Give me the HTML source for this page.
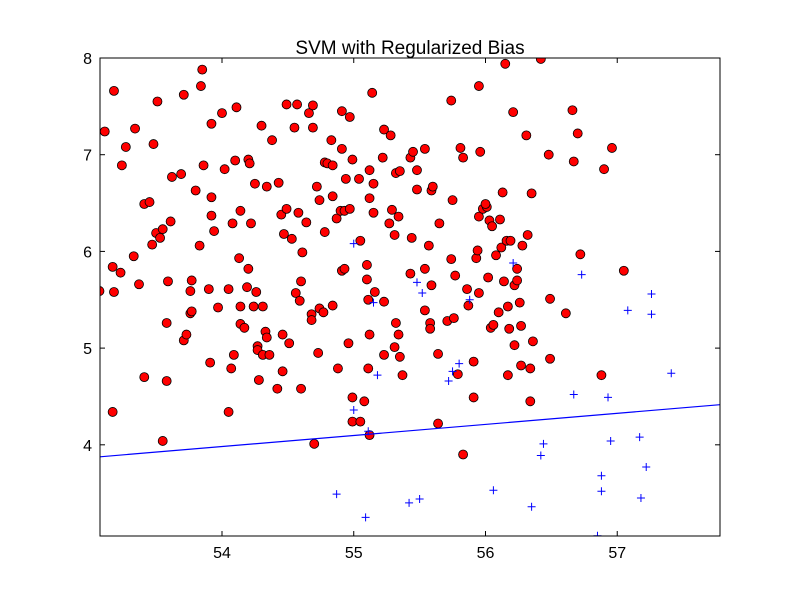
<!DOCTYPE html>
<html><head><meta charset="utf-8"><style>
html,body{margin:0;padding:0;background:#fff;}
svg{display:block;font-family:"Liberation Sans",sans-serif;}
</style></head><body>
<svg id="chart" width="800" height="595" viewBox="0 0 800 595" xmlns="http://www.w3.org/2000/svg">
<rect x="0" y="0" width="800" height="595" fill="#fff"/>
<text x="410" y="54" font-size="19" text-anchor="middle">SVM with Regularized Bias</text>
<defs><clipPath id="pc"><rect x="100" y="58" width="620" height="478"/></clipPath></defs>
<g id="marks" clip-path="url(#pc)"></g>
<g id="axes"></g>
<rect x="100" y="58" width="620" height="478" fill="none" stroke="#000" stroke-width="1"/>
</svg>
<script>
const redX=[53.07,53.11,53.18,53.17,53.18,53.17,53.23,53.24,53.27,53.34,53.33,53.37,53.41,53.41,53.45,53.47,53.48,53.50,53.51,53.53,53.55,53.55,53.58,53.58,53.59,53.61,53.62,53.69,53.71,53.71,53.73,53.76,53.76,53.77,53.77,53.80,53.83,53.84,53.85,53.86,53.90,53.91,53.92,53.92,53.92,53.94,53.97,54.00,54.02,54.05,54.05,54.07,54.09,54.08,54.10,54.11,54.13,54.14,54.14,54.14,54.17,54.19,54.20,54.20,54.21,54.22,54.24,54.25,54.26,54.27,54.27,54.28,54.30,54.31,54.31,54.33,54.34,54.34,54.36,54.38,54.42,54.43,54.45,54.46,54.46,54.47,54.49,54.49,54.51,54.53,54.55,54.56,54.57,54.58,54.59,54.60,54.60,54.61,54.64,54.66,54.68,54.68,54.69,54.69,54.70,54.72,54.73,54.74,54.74,54.77,54.78,54.78,54.80,54.83,54.84,54.84,54.84,54.87,54.88,54.90,54.91,54.91,54.91,54.93,54.93,54.94,54.96,54.97,54.97,54.99,54.99,54.99,55.04,55.05,55.05,55.08,55.10,55.10,55.11,55.11,55.12,55.12,55.12,55.12,55.14,55.15,55.15,55.16,55.22,55.23,55.23,55.23,55.27,55.28,55.29,55.31,55.32,55.31,55.32,55.34,55.34,55.35,55.35,55.37,55.43,55.43,55.44,55.45,55.48,55.48,55.54,55.54,55.54,55.57,55.58,55.58,55.59,55.59,55.60,55.64,55.64,55.65,55.71,55.74,55.74,55.75,55.76,55.77,55.79,55.81,55.83,55.83,55.86,55.87,55.91,55.91,55.93,55.94,55.95,55.95,55.96,55.95,55.98,56.01,56.00,56.02,56.03,56.04,56.05,56.06,56.08,56.10,56.11,56.12,56.13,56.14,56.15,56.16,56.17,56.17,56.18,56.19,56.21,56.22,56.22,56.24,56.24,56.26,56.27,56.27,56.28,56.31,56.32,56.34,56.34,56.35,56.36,56.42,56.48,56.49,56.49,56.61,56.66,56.67,56.70,56.72,56.88,56.90,56.96,57.05];
const redY=[5.59,7.24,7.66,5.84,5.58,4.34,5.78,6.89,7.08,7.27,5.95,5.66,4.70,6.49,6.51,6.07,7.11,6.19,7.55,6.14,6.23,4.04,5.26,4.66,5.69,6.31,6.77,6.80,7.62,5.08,5.14,5.36,5.59,5.70,5.38,6.63,6.06,7.71,7.88,6.89,5.61,4.85,7.32,6.56,6.37,6.21,5.42,7.43,6.85,4.34,5.61,4.79,4.93,6.29,6.94,7.49,5.93,6.42,5.43,5.25,5.21,5.63,5.82,6.95,6.91,6.29,5.43,6.70,5.58,5.02,4.98,4.67,7.30,5.43,4.93,5.17,6.67,5.11,4.93,7.15,4.58,6.71,6.38,5.14,4.76,6.18,6.44,7.52,5.05,6.13,7.28,5.57,7.52,6.40,5.49,5.69,4.58,5.99,6.30,7.43,5.35,5.29,7.28,7.51,4.01,6.67,4.95,6.53,5.41,5.37,6.20,6.92,6.91,7.15,6.57,5.44,6.89,6.34,4.79,6.42,7.45,7.06,5.80,5.82,6.42,6.75,5.05,7.39,6.44,6.95,4.49,4.24,6.75,4.24,6.11,4.45,5.86,5.71,4.79,5.50,6.84,6.55,5.14,4.10,7.64,6.40,6.70,5.58,6.97,5.48,7.26,4.93,6.29,7.20,6.43,5.01,5.26,6.17,6.81,5.14,6.36,4.91,6.83,4.72,5.77,6.97,6.14,7.03,6.84,6.64,5.39,5.82,7.06,6.06,5.26,5.20,6.63,5.65,6.67,4.94,4.22,6.29,5.28,7.56,5.92,6.53,5.31,5.75,4.73,7.07,6.97,3.90,5.61,5.44,4.49,4.86,5.93,6.01,5.57,7.71,7.03,6.36,6.44,6.46,6.49,5.73,6.32,5.21,6.26,5.24,5.96,5.37,6.33,6.04,6.61,5.69,7.94,6.11,5.43,4.72,5.20,6.11,7.44,5.03,5.65,5.70,5.82,5.47,5.23,4.82,6.06,7.20,6.17,4.79,4.45,6.60,5.07,7.99,7.00,5.51,4.89,5.36,7.46,6.93,7.22,5.97,4.72,6.85,7.07,5.80];
const blueX=[55.00,55.48,55.52,55.15,55.18,55.00,55.11,54.87,55.09,55.42,55.50,55.72,55.75,55.80,55.88,56.21,56.06,56.35,56.42,56.44,56.67,56.73,56.93,56.95,56.88,56.88,56.85,57.08,57.26,57.26,57.17,57.18,57.22,57.41];
const blueY=[6.08,5.68,5.57,5.47,4.72,4.36,4.14,3.49,3.25,3.40,3.44,4.66,4.76,4.84,5.50,5.88,3.53,3.36,3.89,4.01,4.52,5.76,4.49,4.04,3.68,3.52,3.06,5.39,5.56,5.35,4.08,3.45,3.77,4.74];
const lineX=[53.074,57.78];
const lineY=[3.876,4.415];
const xTicks=[54,55,56,57];
const yTicks=[4,5,6,7,8];
const xDom=[53.074,57.78], yDom=[3.057,8];
const L=100,R=720,T=58,B=536;
const sx=v=>L+(v-xDom[0])/(xDom[1]-xDom[0])*(R-L);
const sy=v=>B-(v-yDom[0])/(yDom[1]-yDom[0])*(B-T);
const NS="http://www.w3.org/2000/svg";
const marks=document.getElementById('marks'), axes=document.getElementById('axes');
function mk(tag,attrs,parent){const e=document.createElementNS(NS,tag);for(const k in attrs)e.setAttribute(k,attrs[k]);parent.appendChild(e);return e;}
for(let i=0;i<redX.length;i++){
  const c=mk('circle',{cx:sx(redX[i]),cy:sy(redY[i]),r:4.5,fill:'#ff0000',stroke:'#000','stroke-width':0.8},marks);
  
  
}
for(let i=0;i<blueX.length;i++){
  const x=sx(blueX[i]),y=sy(blueY[i]);
  const p=mk('path',{d:`M${x-4},${y}H${x+4}M${x},${y-4}V${y+4}`,stroke:'#0000ff','stroke-width':1,fill:'none'},marks);
  
  
}
const ln=mk('line',{x1:sx(lineX[0]),y1:sy(lineY[0]),x2:sx(lineX[1]),y2:sy(lineY[1]),stroke:'#0000ff','stroke-width':1.2},marks);


xTicks.forEach(t=>{
  const x=sx(t);
  mk('line',{x1:x,y1:B,x2:x,y2:B-5,stroke:'#000'},axes);
  mk('line',{x1:x,y1:T,x2:x,y2:T+5,stroke:'#000'},axes);
  const tx=mk('text',{x:x,y:B+22,'font-size':16,'text-anchor':'middle'},axes);
  tx.textContent=t;
  
  
});
yTicks.forEach(t=>{
  const y=sy(t);
  mk('line',{x1:L,y1:y,x2:L+5,y2:y,stroke:'#000'},axes);
  mk('line',{x1:R,y1:y,x2:R-5,y2:y,stroke:'#000'},axes);
  const tx=mk('text',{x:L-8,y:y+6,'font-size':16,'text-anchor':'end'},axes);
  tx.textContent=t;
  
  
});
</script>
</body></html>
